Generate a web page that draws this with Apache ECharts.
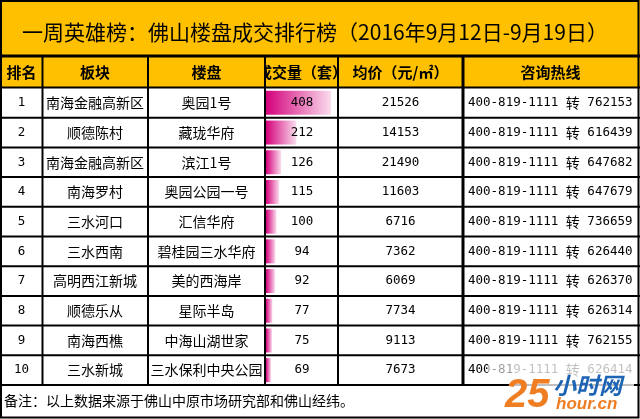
<!DOCTYPE html>
<html><head><meta charset="utf-8">
<script src="https://cdn.jsdelivr.net/npm/echarts@6/dist/echarts.min.js"></script>
<style>html,body{margin:0;padding:0;background:#fff}#c{width:640px;height:419px}</style>
</head><body><div id="c"></div>
<script>
// ---- data ----
const titleText = '一周英雄榜：佛山楼盘成交排行榜（2016年9月12日-9月19日）';
const headers = ['排名', '板块', '楼盘', '成交量（套）', '均价（元/㎡）', '咨询热线'];
const ranks = ['1', '2', '3', '4', '5', '6', '7', '8', '9', '10'];
const districts = ['南海金融高新区', '顺德陈村', '南海金融高新区', '南海罗村', '三水河口', '三水西南', '高明西江新城', '顺德乐从', '南海西樵', '三水新城'];
const projects = ['奥园1号', '藏珑华府', '滨江1号', '奥园公园一号', '汇信华府', '碧桂园三水华府', '美的西海岸', '星际半岛', '中海山湖世家', '三水保利中央公园'];
const volumes = [408, 212, 126, 115, 100, 94, 92, 77, 75, 69];
const prices = [21526, 14153, 21490, 11603, 6716, 7362, 6069, 7734, 9113, 7673];
const hotline = '400-819-1111';
const transferWord = '转';
const extensions = ['762153', '616439', '647682', '647679', '736659', '626440', '626370', '626314', '762155', '626414'];
const footnote = '备注：以上数据来源于佛山中原市场研究部和佛山经纬。';

// ---- layout ----
const colEdges = [42.5, 148, 265, 338, 463];
const colCenters = [21.5, 95, 206.5, 302, 400.5, 550.5];
const CN = "'Noto Sans CJK SC'";
const MONO = "'DejaVu Sans Mono'";
const YELLOW = '#FFC000';

function T(x, y, text, font, align, extra) {
  return Object.assign({
    type: 'text',
    style: {
      x: x, y: y, text: text, font: font, fill: '#000',
      align: align || 'center', textAlign: align || 'center',
      verticalAlign: 'middle', textVerticalAlign: 'middle'
    }
  }, extra || {});
}
function L(x1, y1, x2, y2, w, z) {
  return { type: 'line', z: z || 5, shape: { x1: x1, y1: y1, x2: x2, y2: y2 }, style: { stroke: '#000', lineWidth: w } };
}

function renderRow(params, api) {
  const i = api.value(1);
  const cy = api.coord([0, i])[1];
  const h = api.size([0, 1])[1];
  const X = v => api.coord([v, i])[0];
  const cn = '14px ' + CN;
  const mono = '12.5px ' + MONO;
  const ch = [
    T(X(colCenters[0]), cy, ranks[i], mono),
    T(X(colCenters[1]), cy, districts[i], cn),
    T(X(colCenters[2]), cy, projects[i], cn),
    T(X(colCenters[3]), cy, String(volumes[i]), mono),
    T(X(colCenters[4]), cy, String(prices[i]), mono),
    {
      type: 'text',
      style: {
        x: X(468), y: cy,
        text: '{n|' + hotline + ' }{c|' + transferWord + '}{n| ' + extensions[i] + '}',
        rich: {
          n: { fontFamily: 'DejaVu Sans Mono', fontSize: 12.5, fill: '#000', color: '#000' },
          c: { fontFamily: 'Noto Sans CJK SC', fontSize: 14, fill: '#000', color: '#000' }
        },
        fill: '#000',
        align: 'left', textAlign: 'left', verticalAlign: 'middle', textVerticalAlign: 'middle'
      }
    },
    { type: 'line', shape: { x1: X(0), y1: cy + h / 2, x2: X(640), y2: cy + h / 2 }, style: { stroke: '#000', lineWidth: 2 } }
  ];
  colEdges.forEach((e, k) => {
    ch.push({ type: 'line', shape: { x1: X(e), y1: cy - h / 2, x2: X(e), y2: cy + h / 2 }, style: { stroke: '#000', lineWidth: k === 4 ? 3 : 2 } });
  });
  return { type: 'group', children: ch };
}

const chart = echarts.init(document.getElementById('c'), null, { renderer: 'canvas' });

const graphics = [
  { type: 'rect', z: 0, shape: { x: 0, y: 0, width: 640, height: 56 }, style: { fill: YELLOW } },
  { type: 'rect', z: 0, shape: { x: 0, y: 57, width: 640, height: 30.5 }, style: { fill: YELLOW } },
  T(315, 32, titleText, '21px ' + CN, 'center', { z: 3 }),
];
headers.forEach((hd, k) => graphics.push(T(colCenters[k], 72.5, hd, 'bold 15px ' + CN, 'center', { z: 3 })));
graphics.push(
  { type: 'rect', z: 4, shape: { x: 246, y: 58, width: 18.5, height: 29 }, style: { fill: YELLOW } },
  { type: 'rect', z: 4, shape: { x: 339, y: 58, width: 11, height: 29 }, style: { fill: YELLOW } },
  L(0, 56, 640, 56, 3),
  L(0, 87.5, 640, 87.5, 2)
);
colEdges.forEach((e, k) => graphics.push(L(e, 57, e, 88, k === 4 ? 3 : 2)));
graphics.push(
  T(4, 401, footnote, '14px ' + CN, 'left', { z: 3 }),
  { type: 'rect', z: 5, shape: { x: 1, y: 1, width: 637.5, height: 416.5 }, style: { fill: 'none', stroke: '#000', lineWidth: 2 } },
  // watermark
  { type: 'rect', z: 20, shape: { x: 488, y: 363, width: 24, height: 21 }, style: { fill: 'rgba(255,255,255,0.6)' } },
  { type: 'rect', z: 20, shape: { x: 512, y: 363, width: 122, height: 52 }, style: { fill: 'rgba(255,255,255,0.75)' } },
  T(505, 396, '25', 'italic bold 40px "Liberation Sans"', 'left', { z: 21, style: { x: 505, y: 396, text: '25', font: 'italic bold 40px "Liberation Sans"', fill: '#EF7D22', align: 'left', textAlign: 'left', verticalAlign: 'middle', textVerticalAlign: 'middle' } }),
  { type: 'text', z: 21, style: { x: 553, y: 385, text: '小时网', font: 'italic bold 23px ' + CN, fill: '#1E64B4', align: 'left', textAlign: 'left', verticalAlign: 'middle', textVerticalAlign: 'middle' } },
  { type: 'text', z: 21, style: { x: 556, y: 404, text: 'hour.cn', font: 'italic bold 17px "Liberation Sans"', fill: '#EF7D22', align: 'left', textAlign: 'left', verticalAlign: 'middle', textVerticalAlign: 'middle' } }
);

chart.setOption({
  animation: false,
  grid: [
    { left: 0, top: 88, width: 640, height: 297, containLabel: false },
    { left: 266, top: 88, width: 72, height: 297, containLabel: false }
  ],
  xAxis: [
    { type: 'value', gridIndex: 0, min: 0, max: 640, show: false },
    { type: 'value', gridIndex: 1, min: 40.75, max: 447.5, show: false }
  ],
  yAxis: [
    { type: 'category', gridIndex: 0, data: ranks, inverse: true, show: false },
    { type: 'category', gridIndex: 1, data: ranks, inverse: true, show: false }
  ],
  graphic: graphics,
  series: [
    {
      type: 'bar', xAxisIndex: 1, yAxisIndex: 1, data: volumes, barWidth: 24, z: 1, silent: true,
      itemStyle: {
        color: new echarts.graphic.LinearGradient(0, 0, 1, 0, [
          { offset: 0, color: '#D4007B' }, { offset: 1, color: '#FADDED' }
        ])
      }
    },
    {
      type: 'custom', xAxisIndex: 0, yAxisIndex: 0, z: 3, silent: true, clip: false,
      data: ranks.map((r, i) => [0, i]),
      renderItem: renderRow
    }
  ]
});
</script>
</body></html>
